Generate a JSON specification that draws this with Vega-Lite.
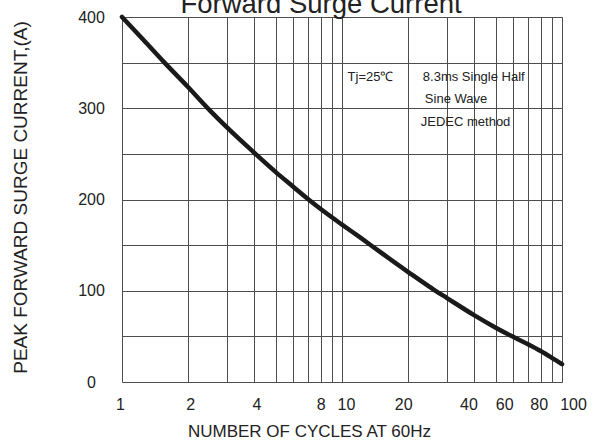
{
  "$schema": "https://vega.github.io/schema/vega-lite/v6.json",
  "width": 440,
  "height": 365,
  "autosize": {"type": "none"},
  "padding": {"left": 122, "top": 17, "right": 34, "bottom": 59},
  "background": "white",
  "title": {
    "text": "Forward Surge Current",
    "font": "Liberation Sans",
    "fontSize": 27.5,
    "fontWeight": "normal",
    "color": "#222222",
    "anchor": "middle",
    "baseline": "alphabetic",
    "offset": -31,
    "dx": -21
  },
  "config": {
    "view": {"stroke": null},
    "font": "Liberation Sans"
  },
  "datasets": {
    "curve": [
      {"cycles": 1, "current": 400},
      {"cycles": 1.25, "current": 375},
      {"cycles": 1.56, "current": 350},
      {"cycles": 2, "current": 323},
      {"cycles": 2.5, "current": 298},
      {"cycles": 3, "current": 279},
      {"cycles": 4, "current": 251},
      {"cycles": 5, "current": 230},
      {"cycles": 6, "current": 214},
      {"cycles": 7, "current": 200.5},
      {"cycles": 8, "current": 189.5},
      {"cycles": 10, "current": 172.5},
      {"cycles": 12, "current": 159},
      {"cycles": 15, "current": 142},
      {"cycles": 20, "current": 120.5},
      {"cycles": 26.4, "current": 100.5},
      {"cycles": 30, "current": 92},
      {"cycles": 40, "current": 73},
      {"cycles": 50, "current": 59.5},
      {"cycles": 60, "current": 49.5},
      {"cycles": 70, "current": 41.5},
      {"cycles": 80, "current": 34},
      {"cycles": 90, "current": 26.5},
      {"cycles": 100, "current": 19.5}
    ],
    "notes": [
      {"note": "Tj=25℃", "cycles": 10.6, "current": 329.6},
      {"note": "8.3ms Single Half", "cycles": 23.3, "current": 329.6},
      {"note": "Sine Wave", "cycles": 23.8, "current": 305.5},
      {"note": "JEDEC method", "cycles": 22.8, "current": 280.4}
    ]
  },
  "layer": [
    {
      "data": {"name": "curve"},
      "mark": {"type": "line", "interpolate": "monotone", "color": "#1a1a1a", "strokeWidth": 4.5, "strokeCap": "round", "strokeJoin": "round"},
      "encoding": {
        "x": {
          "field": "cycles",
          "type": "quantitative",
          "scale": {"type": "log", "domain": [1, 100], "nice": false},
          "axis": {
            "values": [1, 2, 3, 4, 5, 6, 7, 8, 9, 10, 20, 30, 40, 50, 60, 70, 80, 90, 100],
            "grid": true,
            "gridColor": "#4d4d4d",
            "gridWidth": 1,
            "gridOpacity": 1,
            "ticks": false,
            "tickSize": 0,
            "domain": false,
            "labelExpr": "indexof([1,2,4,8,10,20,40,60,80,100], datum.value) >= 0 ? '' + datum.value : ''",
            "labelFont": "Liberation Sans",
            "labelFontSize": 16,
            "labelColor": "#222222",
            "labelBaseline": "alphabetic",
            "labelPadding": 27,
            "labelOffset": {
              "condition": [
                {"test": "datum.value === 1", "value": -2},
                {"test": "datum.value === 2", "value": 2},
                {"test": "datum.value === 4", "value": 2},
                {"test": "datum.value === 10", "value": 4},
                {"test": "datum.value === 20", "value": -5},
                {"test": "datum.value === 40", "value": -6},
                {"test": "datum.value === 60", "value": -9},
                {"test": "datum.value === 80", "value": -2},
                {"test": "datum.value === 100", "value": 11}
              ],
              "value": 0
            },
            "labelFlush": false,
            "labelOverlap": false,
            "labelBound": false,
            "title": "NUMBER OF CYCLES AT 60Hz",
            "titleFont": "Liberation Sans",
            "titleFontSize": 17,
            "titleFontWeight": "normal",
            "titleColor": "#222222",
            "titleX": 187,
            "titleY": 54.5,
            "titleBaseline": "alphabetic",
            "titleAlign": "center"
          }
        },
        "y": {
          "field": "current",
          "type": "quantitative",
          "scale": {"domain": [0, 400], "nice": false, "zero": true},
          "axis": {
            "values": [0, 50, 100, 150, 200, 250, 300, 350, 400],
            "grid": true,
            "gridColor": "#4d4d4d",
            "gridWidth": 1,
            "gridOpacity": 1,
            "ticks": false,
            "tickSize": 0,
            "domain": false,
            "labelExpr": "datum.value % 100 === 0 ? '' + datum.value : ''",
            "labelFont": "Liberation Sans",
            "labelFontSize": 16,
            "labelColor": "#222222",
            "labelAlign": "center",
            "labelBaseline": "middle",
            "labelPadding": 31,
            "labelFlush": false,
            "labelOverlap": false,
            "labelBound": false,
            "title": "PEAK FORWARD SURGE CURRENT,(A)",
            "titleFont": "Liberation Sans",
            "titleFontSize": 19,
            "titleFontWeight": "normal",
            "titleColor": "#222222",
            "titleAngle": -90,
            "titleX": -102,
            "titleY": 180,
            "titleBaseline": "middle",
            "titleAlign": "center"
          }
        }
      }
    },
    {
      "mark": {"type": "rect", "color": "white"},
      "encoding": {
        "x": {"datum": 10.12, "type": "quantitative"},
        "x2": {"datum": 76},
        "y": {"datum": 270, "type": "quantitative"},
        "y2": {"datum": 351}
      }
    },
    {
      "data": {"name": "notes"},
      "mark": {"type": "text", "align": "left", "baseline": "alphabetic", "font": "Liberation Sans", "fontSize": 13, "color": "#222222"},
      "encoding": {
        "x": {"field": "cycles", "type": "quantitative"},
        "y": {"field": "current", "type": "quantitative"},
        "text": {"field": "note"}
      }
    }
  ]
}
